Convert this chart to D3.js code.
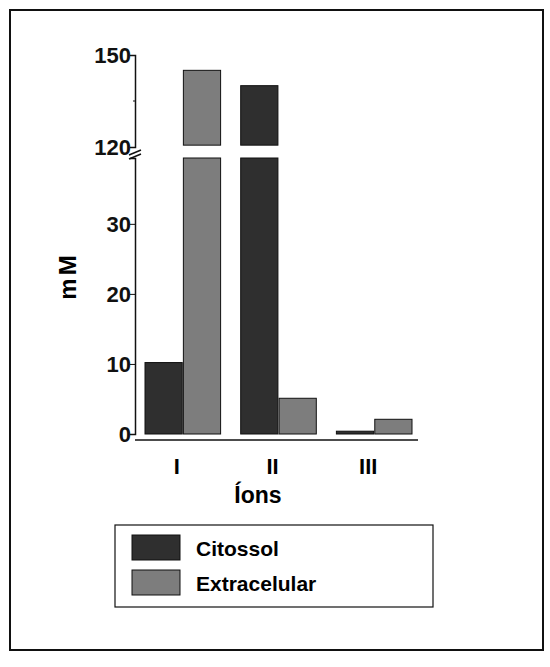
<!DOCTYPE html>
<html><head><meta charset="utf-8">
<script src="https://cdn.jsdelivr.net/npm/d3@7"></script>
<style>body{margin:0;background:#fff}</style>
</head><body>
<svg id="chart" width="550" height="667"></svg>
<script>
const categories = ['I', 'II', 'III'];
const series = ['Citossol', 'Extracelular'];
const citossol = [10.2, 140, 0.4];
const extracelular = [145, 5.1, 2.1];
const lowTicks = [0, 10, 20, 30];
const highTicks = [120, 150];
const colors = ['#2f2f2f', '#7d7d7d'];

const svg = d3.select('#chart');
const font = 'Liberation Sans, Arial, sans-serif';

svg.append('rect').attr('x', 10).attr('y', 10).attr('width', 533).attr('height', 640)
    .attr('fill', 'none').attr('stroke', '#111').attr('stroke-width', 2);

const x0 = d3.scaleBand().domain(categories).range([145, 412]).paddingInner(0.21).paddingOuter(0);
const x1 = d3.scaleBand().domain(series).range([0, x0.bandwidth()]).paddingInner(0.03);
const yLow = d3.scaleLinear().domain([0, 39.4]).range([434, 158]);
const yHigh = d3.scaleLinear().domain([120, 150]).range([147, 55]);
const breakLow = 39.4, breakHigh = 120.6;

const rows = categories.map((c, i) => ({ cat: c, vals: [citossol[i], extracelular[i]] }));
const g = svg.append('g');
rows.forEach(r => {
    r.vals.forEach((v, j) => {
        const x = x0(r.cat) + x1(series[j]);
        const w = x1.bandwidth();
        const topLow = yLow(Math.min(v, breakLow));
        g.append('rect').attr('x', x).attr('y', topLow).attr('width', w).attr('height', yLow(0) - topLow)
            .attr('fill', colors[j]).attr('stroke', '#111').attr('stroke-width', 1);
        if (v > breakLow) {
            const t = yHigh(v);
            g.append('rect').attr('x', x).attr('y', t).attr('width', w).attr('height', yHigh(breakHigh) - t)
                .attr('fill', colors[j]).attr('stroke', '#111').attr('stroke-width', 1);
        }
    });
});

// y axes
const axLow = svg.append('g').attr('transform', 'translate(135,0)')
    .call(d3.axisLeft(yLow).tickValues(lowTicks).tickSize(5).tickFormat(d3.format('d')));
const axHigh = svg.append('g').attr('transform', 'translate(135,0)')
    .call(d3.axisLeft(yHigh).tickValues(highTicks).tickSize(5).tickFormat(d3.format('d')));
svg.append('line').attr('x1', 133).attr('x2', 135).attr('y1', yHigh(135)).attr('y2', yHigh(135)).attr('stroke', '#111');
[axLow, axHigh].forEach(a => {
    a.select('.domain').attr('stroke', '#111').attr('stroke-width', 1.5);
    a.selectAll('line').attr('stroke', '#111');
    a.selectAll('text').attr('font-family', font).attr('font-size', 22).attr('font-weight', 'bold')
        .attr('fill', '#111').attr('x', -4).attr('dy', '0.35em');
});
svg.append('line').attr('x1', 129).attr('x2', 141).attr('y1', 155).attr('y2', 150).attr('stroke', '#111').attr('stroke-width', 1.5);
svg.append('line').attr('x1', 129).attr('x2', 141).attr('y1', 159).attr('y2', 154).attr('stroke', '#111').attr('stroke-width', 1.5);

// x axis
svg.append('line').attr('x1', 135).attr('x2', 418).attr('y1', 440).attr('y2', 440).attr('stroke', '#111').attr('stroke-width', 1.5);
svg.append('g').selectAll('text').data(categories).join('text')
    .attr('x', d => x0(d) + x0.bandwidth() / 2 - 6).attr('y', 474).attr('text-anchor', 'middle')
    .attr('font-family', font).attr('font-size', 22).attr('font-weight', 'bold').text(d => d);
svg.append('text').attr('x', 258).attr('y', 503).attr('text-anchor', 'middle')
    .attr('font-family', font).attr('font-size', 23).attr('font-weight', 'bold').text('Íons');
svg.append('text').attr('transform', 'translate(76,276) rotate(-90)').attr('text-anchor', 'middle')
    .attr('font-family', font).attr('font-size', 24).attr('font-weight', 'bold')
    .attr('letter-spacing', 3).text('mM');

// legend
const lg = svg.append('g');
lg.append('rect').attr('x', 115).attr('y', 525).attr('width', 318).attr('height', 82)
    .attr('fill', '#fff').attr('stroke', '#111').attr('stroke-width', 1.2);
series.forEach((s, i) => {
    lg.append('rect').attr('x', 132).attr('y', 535 + i * 35).attr('width', 48).attr('height', 25)
        .attr('fill', colors[i]).attr('stroke', '#111');
    lg.append('text').attr('x', 196).attr('y', 556 + i * 35).attr('font-family', font)
        .attr('font-size', 21).attr('font-weight', 'bold').text(s);
});
</script>
</body></html>
